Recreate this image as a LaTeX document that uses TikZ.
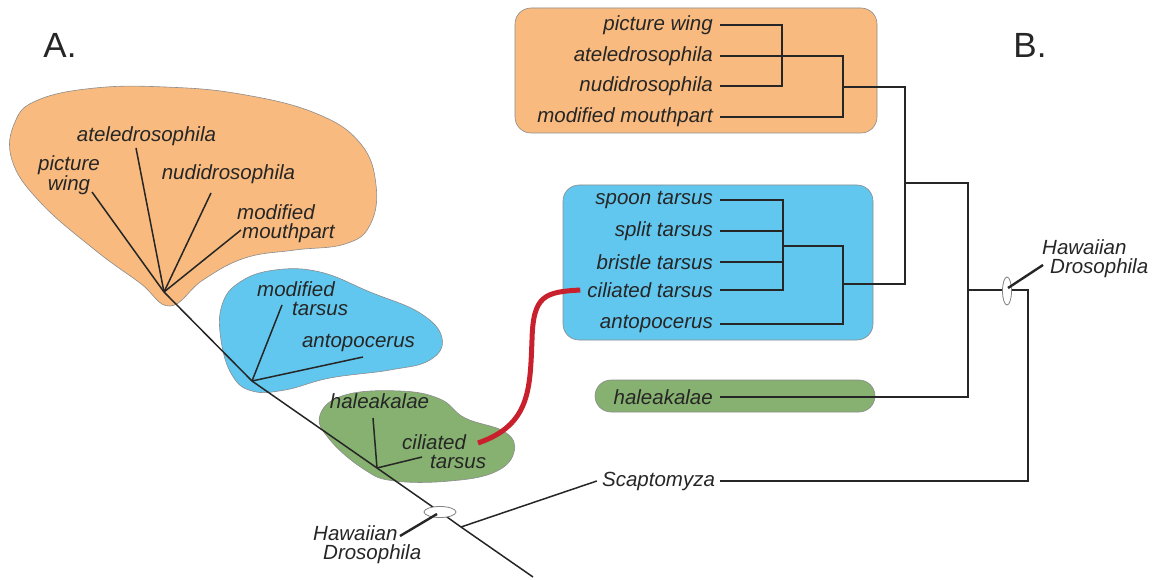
\documentclass[tikz,border=0pt]{standalone}
\usepackage{fontspec}
\setmainfont{Liberation Sans}
\usetikzlibrary{shapes.geometric}
\definecolor{orangeclade}{HTML}{F8BA7E}
\definecolor{blueclade}{HTML}{62C7EE}
\definecolor{greenclade}{HTML}{86B170}
\definecolor{ink}{HTML}{262626}
\definecolor{redlink}{HTML}{C8202C}
\tikzset{
  lbl/.style={font=\fontsize{20.5}{19}\selectfont\itshape,text=ink,inner sep=0pt},
  tip/.style={lbl,anchor=east,inner xsep=7pt},
  br/.style={line width=1.5pt,draw=ink},
  clade/.style={draw=black!45,line width=0.6pt,rounded corners=16pt},
  blob/.style={draw=black!45,line width=0.6pt},
  ring/.style={draw=black!50,fill=white,line width=0.8pt},
  pointer/.style={line width=2.4pt,draw=ink}
}
\begin{document}
\begin{tikzpicture}[x=1pt,y=-1pt]
\useasboundingbox (0,0) rectangle (1156,580);
\node[font=\fontsize{35}{35}\selectfont,text=ink] (A) at (60,45) {A.};
\node[font=\fontsize{35}{35}\selectfont,text=ink] (B) at (1030,45) {B.};

\path[blob,fill=orangeclade] plot[smooth cycle,tension=0.7] coordinates {(170,306) (140,283) (95,250) (40,202) (12,160) (15,122) (38,100) (95,88) (165,87) (240,94) (315,113) (360,143) (376,185) (370,225) (345,244) (295,250) (245,258) (203,280)};
\path[blob,fill=blueclade] plot[smooth cycle,tension=0.7] coordinates {(252,391) (232,375) (221,340) (222,305) (240,282) (275,270) (320,272) (370,292) (420,313) (442,338) (430,360) (390,370) (330,378) (285,390)};
\path[blob,fill=greenclade] plot[smooth cycle,tension=0.7] coordinates {(320,415) (345,395) (400,391) (440,399) (465,418) (505,432) (514,452) (495,472) (450,481) (395,481) (365,470) (330,440)};

\coordinate (o) at (164,292);
\coordinate (b) at (252,381);
\coordinate (g) at (377,468);
\coordinate (e) at (440,512);
\coordinate (s) at (461,527);
\coordinate (root) at (533,577);
\draw[br] (o) -- (b) -- (g) -- (e) -- (s) -- (root);

\node[lbl,align=center] (lpw) at (69,175) {picture\\wing};
\node[lbl,anchor=base] (lat) at (146.5,141.7) {ateledrosophila};
\node[lbl,anchor=base] (lnu) at (228.5,179.3) {nudidrosophila};
\node[lbl,align=left,anchor=west] (lmm) at (237,224) {modified\\\hspace{5pt}mouthpart};
\node[lbl,align=left,anchor=west] (lmt) at (257,299) {modified\\\hspace{35pt}tarsus};
\node[lbl,anchor=base] (lan) at (358.5,347) {antopocerus};
\node[lbl,anchor=base] (lha) at (379.5,408) {haleakalae};
\node[lbl,align=left,anchor=west] (lct) at (402,452) {ciliated\\\hspace{28pt}tarsus};
\coordinate (pwend) at (92,192);
\coordinate (atend) at (136,148);
\coordinate (nuend) at (211,193);
\coordinate (mmend) at (241,230);
\coordinate (mtend) at (282,305);
\coordinate (anend) at (363,357);
\coordinate (haend) at (373,418);
\coordinate (ctend) at (422,457);
\draw[br] (o) -- (pwend);
\draw[br] (o) -- (atend);
\draw[br] (o) -- (nuend);
\draw[br] (o) -- (mmend);
\draw[br] (b) -- (mtend);
\draw[br] (b) -- (anend);
\draw[br] (g) -- (haend);
\draw[br] (g) -- (ctend);

\node[lbl,anchor=base,inner xsep=5pt] (scap) at (658.5,486) {Scaptomyza};
\draw[br] (s) -- (scap.west);

\node[ring,ellipse,minimum width=32pt,minimum height=11pt,inner sep=0pt] (lring) at (e) {};
\node[lbl,align=left,anchor=west] (lhd) at (313,545) {Hawaiian\\\hspace{10pt}Drosophila};
\draw[pointer] (437,514) -- (400,536);

\path[clade,fill=orangeclade] (515,8) rectangle (877,133);
\path[clade,fill=blueclade] (563,185) rectangle (873,340);
\path[clade,fill=greenclade] (595,380) rectangle (875,412);

\node[tip] (rpw) at (720,25) {picture wing};
\node[tip] (rat) at (720,56) {ateledrosophila};
\node[tip] (rnu) at (720,86) {nudidrosophila};
\node[tip] (rmm) at (720,117) {modified mouthpart};
\node[tip] (rsp) at (720,200) {spoon tarsus};
\node[tip] (rsl) at (720,231) {split tarsus};
\node[tip] (rbr) at (720,262) {bristle tarsus};
\node[tip] (rci) at (720,290) {ciliated tarsus};
\node[tip] (ran) at (720,324) {antopocerus};
\node[tip] (rha) at (720,397) {haleakalae};

\coordinate (j1) at (782,55);
\coordinate (j2) at (843,87);
\coordinate (j3) at (783,246);
\coordinate (j4) at (843,284);
\coordinate (j5) at (905,183);
\coordinate (j6) at (968,290);
\coordinate (j7) at (1028,385);
\draw[br] (rpw.east) -| (j1) |- (rnu.east);
\draw[br] (rat.east) -| (j2) |- (rmm.east);
\draw[br] (rsp.east) -| (j3) |- (rci.east);
\draw[br] (rsl.east) -- (rsl.east -| j3);
\draw[br] (rbr.east) -- (rbr.east -| j3);
\draw[br] (j3) -| (j4) |- (ran.east);
\draw[br] (j2) -| (j5) |- (j4);
\draw[br] (j5) -| (j6) |- (rha.east);
\draw[br] (j6) -| (j7) |- (scap.east);

\node[ring,ellipse,minimum width=9pt,minimum height=28pt,inner sep=0pt] (rring) at (1007,291) {};
\node[lbl,align=left,anchor=west] (rhd) at (1042,259) {Hawaiian\\\hspace{8pt}Drosophila};
\draw[pointer] (1008,288) -- (1043,265);

\coordinate (redstart) at (478,443);
\draw[redlink,line width=5pt] (redstart) .. controls (530,425) and (530,390) .. (532,340) .. controls (533,295) and (545,292) .. (rci.west);
\end{tikzpicture}
\end{document}
